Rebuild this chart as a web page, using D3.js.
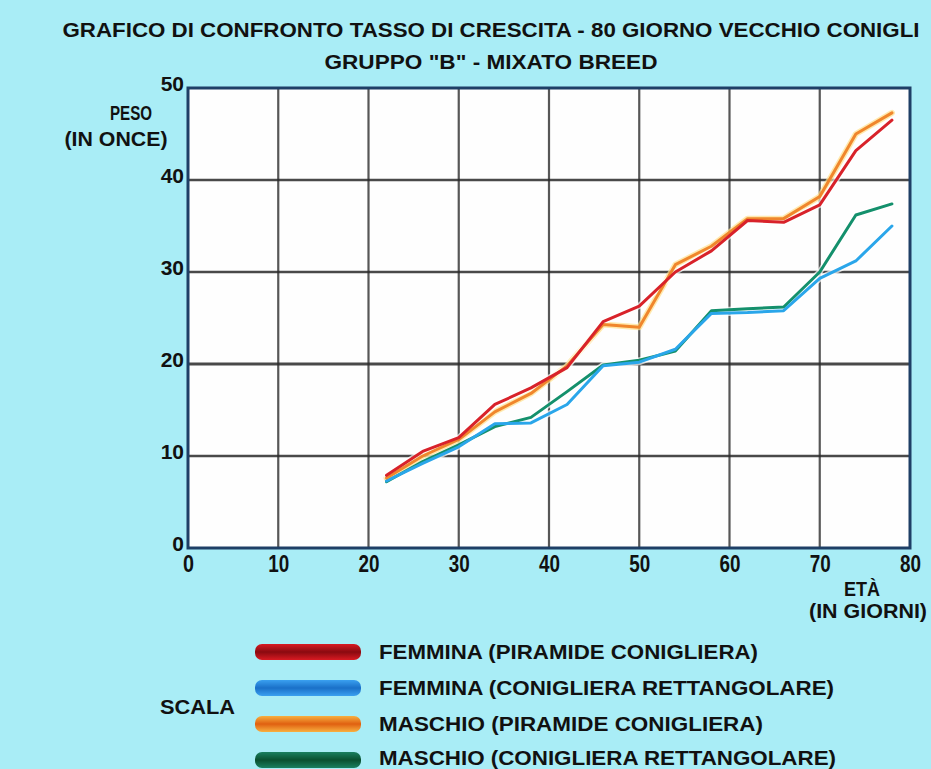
<!DOCTYPE html>
<html><head><meta charset="utf-8">
<script src="https://cdn.jsdelivr.net/npm/d3@7"></script>
<style>
html,body{margin:0;padding:0;background:#a9edf6;}
svg{display:block;}
text{font-family:"Liberation Sans Narrow","Arial Narrow","Liberation Sans",Arial,sans-serif;font-weight:bold;fill:#111;}
</style></head>
<body>
<svg id="chart" width="931" height="769"></svg>
<script>
const titleLines = ["GRAFICO DI CONFRONTO TASSO DI CRESCITA - 80 GIORNO VECCHIO CONIGLI", "GRUPPO \"B\" - MIXATO BREED"];
const ages = [22, 26, 30, 34, 38, 42, 46, 50, 54, 58, 62, 66, 70, 74, 78];
const femminaPiramide = [7.9, 10.5, 12.0, 15.6, 17.4, 19.6, 24.6, 26.3, 30.0, 32.3, 35.6, 35.4, 37.3, 43.2, 46.5];
const femminaRettangolare = [7.3, 9.2, 11.0, 13.5, 13.6, 15.6, 19.8, 20.2, 21.6, 25.5, 25.6, 25.8, 29.3, 31.2, 35.0];
const maschioPiramide = [7.6, 10.0, 11.8, 14.8, 16.8, 19.8, 24.3, 24.0, 30.8, 32.8, 35.8, 35.8, 38.2, 45.0, 47.3];
const maschioRettangolare = [7.2, 9.4, 11.2, 13.2, 14.2, 17.0, 19.9, 20.4, 21.4, 25.8, 26.0, 26.2, 30.0, 36.2, 37.4];
const seriesNames = ["FEMMINA (PIRAMIDE CONIGLIERA)", "FEMMINA (CONIGLIERA RETTANGOLARE)", "MASCHIO (PIRAMIDE CONIGLIERA)", "MASCHIO (CONIGLIERA RETTANGOLARE)"];
const seriesColors = ["#d8222a", "#2aa6ea", "#f0862c", "#14906c"];
const swatchColors = [["#8a0a10","#d81a22"],["#1a70c8","#3aa0f0"],["#e06010","#f8b040"],["#0a5030","#1a8060"]];
const xTicks = [0, 10, 20, 30, 40, 50, 60, 70, 80];
const yTicks = [0, 10, 20, 30, 40, 50];
const yLabel = ["PESO", "(IN ONCE)"];
const xLabel = ["ETÀ", "(IN GIORNI)"];
const legendTitle = "SCALA";

const svg = d3.select("#chart");
const x = d3.scaleLinear().domain([0, 80]).range([188, 910]);
const y = d3.scaleLinear().domain([0, 50]).range([548, 88]);

function narrow(sel, w) {
  return sel.attr("textLength", w).attr("lengthAdjust", "spacingAndGlyphs");
}

// title
narrow(svg.append("text").attr("x", 491).attr("y", 37).attr("text-anchor", "middle")
  .attr("font-size", 20).text(titleLines[0]), 857);
narrow(svg.append("text").attr("x", 491).attr("y", 69).attr("text-anchor", "middle")
  .attr("font-size", 21).text(titleLines[1]), 333);

// plot area
svg.append("rect").attr("x", x(0)).attr("y", y(50)).attr("width", x(80) - x(0)).attr("height", y(0) - y(50))
  .attr("fill", "#fefefe");

// grid
const grid = svg.append("g");
grid.selectAll("line.v").data(xTicks.slice(1, -1)).join("line")
  .attr("x1", d => x(d)).attr("x2", d => x(d)).attr("y1", y(50)).attr("y2", y(0))
  .attr("stroke", "#3a3a3a").attr("stroke-width", 2.2).attr("opacity", 0.85);
grid.selectAll("line.h").data(yTicks.slice(1, -1)).join("line")
  .attr("x1", x(0)).attr("x2", x(80)).attr("y1", d => y(d)).attr("y2", d => y(d))
  .attr("stroke", "#2a2a2a").attr("stroke-width", d => d === 20 ? 3.2 : 2.4).attr("opacity", 0.85);

// border
svg.append("rect").attr("x", x(0)).attr("y", y(50)).attr("width", x(80) - x(0)).attr("height", y(0) - y(50))
  .attr("fill", "none").attr("stroke", "#1e3f66").attr("stroke-width", 3);

// axes tick labels via d3 axes
const xAxis = d3.axisBottom(x).tickValues(xTicks).tickSize(0).tickPadding(7).tickFormat(d3.format("d"));
const gx = svg.append("g").attr("transform", `translate(0,${y(0)})`).call(xAxis);
gx.select(".domain").remove();
gx.selectAll("text").attr("font-size", 23).attr("font-family", null).attr("fill", "#111").attr("dy", "0.72em")
  .attr("textLength", d => d >= 10 ? 21 : 11).attr("lengthAdjust", "spacingAndGlyphs");

const yAxis = d3.axisLeft(y).tickValues(yTicks).tickSize(0).tickPadding(4).tickFormat(d3.format("d"));
const gy = svg.append("g").attr("transform", `translate(${x(0)},0)`).call(yAxis);
gy.select(".domain").remove();
gy.selectAll("text").attr("font-size", 21).attr("font-family", "'Liberation Sans',Arial,sans-serif").attr("fill", "#111").attr("dy", "0.1em");

// axis titles
narrow(svg.append("text").attr("x", 131).attr("y", 120).attr("text-anchor", "middle").attr("font-size", 20).text(yLabel[0]), 42);
narrow(svg.append("text").attr("x", 116).attr("y", 146).attr("text-anchor", "middle").attr("font-size", 20).text(yLabel[1]), 103);
narrow(svg.append("text").attr("x", 862).attr("y", 596).attr("text-anchor", "middle").attr("font-size", 20).text(xLabel[0]), 36);
narrow(svg.append("text").attr("x", 868).attr("y", 618).attr("text-anchor", "middle").attr("font-size", 20).text(xLabel[1]), 118);

// lines
const allSeries = [femminaPiramide, femminaRettangolare, maschioPiramide, maschioRettangolare];
const line = d3.line().x((d, i) => x(ages[i])).y(d => y(d));
const drawOrder = [3, 1, 2, 0];
const lg = svg.append("g");
drawOrder.forEach(k => {
  lg.append("path").datum(allSeries[k]).attr("d", line).attr("fill", "none")
    .attr("stroke", k === 2 ? "#ffe08a" : "#ffffff").attr("stroke-opacity", 0.7)
    .attr("stroke-width", 6).attr("stroke-linejoin", "round").attr("stroke-linecap", "round");
});
drawOrder.forEach(k => {
  lg.append("path").datum(allSeries[k]).attr("d", line).attr("fill", "none")
    .attr("stroke", seriesColors[k]).attr("stroke-width", 3)
    .attr("stroke-linejoin", "round").attr("stroke-linecap", "round");
});

// legend
const defs = svg.append("defs");
swatchColors.forEach((c, i) => {
  const g = defs.append("linearGradient").attr("id", "sw" + i).attr("x1", 0).attr("x2", 0).attr("y1", 0).attr("y2", 1);
  g.append("stop").attr("offset", "0%").attr("stop-color", c[1]);
  g.append("stop").attr("offset", "50%").attr("stop-color", c[0]);
  g.append("stop").attr("offset", "100%").attr("stop-color", c[1]);
});
const legY = [652, 688, 724, 760];
const legW = [379, 455, 384, 457];
const leg = svg.append("g");
seriesNames.forEach((name, i) => {
  leg.append("rect").attr("x", 255).attr("y", legY[i] - 8).attr("width", 106).attr("height", 16)
    .attr("rx", 7).attr("fill", `url(#sw${i})`);
  narrow(leg.append("text").attr("x", 379).attr("y", legY[i] + 7 - (i === 3 ? 2 : 0)).attr("font-size", 20).text(name), legW[i]);
});
narrow(svg.append("text").attr("x", 160).attr("y", 714).attr("font-size", 20).text(legendTitle), 75);
</script>
</body></html>
